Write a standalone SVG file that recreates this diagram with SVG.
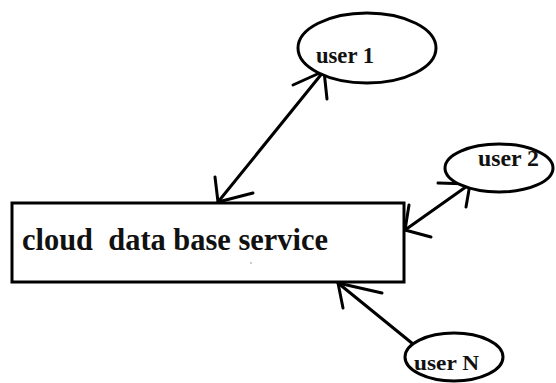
<svg xmlns="http://www.w3.org/2000/svg" width="556" height="383" viewBox="0 0 556 383">
<style>
.shape{fill:#fff;stroke:#000;stroke-width:3}
.ln{fill:none;stroke:#000;stroke-width:3;stroke-linecap:round;stroke-linejoin:round}
.lbl{font-family:"Liberation Serif","Times New Roman",serif;font-weight:bold;fill:#111;white-space:pre}
</style>
<rect width="556" height="383" fill="#fff"/>
<g id="connectors">
<path class="ln" d="M324,71 L218,202"/>
<path class="ln" d="M293,85 L324,71 L327,99"/>
<path class="ln" d="M215,177 L218,202 L253,193"/>
<path class="ln" d="M470,184 L405,230"/>
<path class="ln" d="M438,183 L470,184 L466,207"/>
<path class="ln" d="M409,205 L405,230 L431,237"/>
<path class="ln" d="M413,344 L338,283"/>
<path class="ln" d="M343,308 L338,283 L382,293"/>
</g>
<g id="service">
<rect class="shape" x="12" y="203" width="392" height="79"/>
<text class="lbl" x="22" y="250" font-size="31" textLength="306" lengthAdjust="spacingAndGlyphs" xml:space="preserve">cloud  data base service</text>
<circle cx="251" cy="263" r="0.8" fill="#888"/>
</g>
<g id="user1">
<ellipse class="shape" cx="367" cy="48" rx="69" ry="35"/>
<text class="lbl" x="316" y="63" font-size="23" textLength="58" lengthAdjust="spacingAndGlyphs">user 1</text>
</g>
<g id="user2">
<ellipse class="shape" cx="499" cy="168" rx="54" ry="24"/>
<text class="lbl" x="478" y="166" font-size="23" textLength="61" lengthAdjust="spacingAndGlyphs">user 2</text>
</g>
<g id="userN">
<ellipse class="shape" cx="454" cy="357" rx="49" ry="24"/>
<text class="lbl" x="414" y="370" font-size="22" textLength="65" lengthAdjust="spacingAndGlyphs">user N</text>
</g>
</svg>
